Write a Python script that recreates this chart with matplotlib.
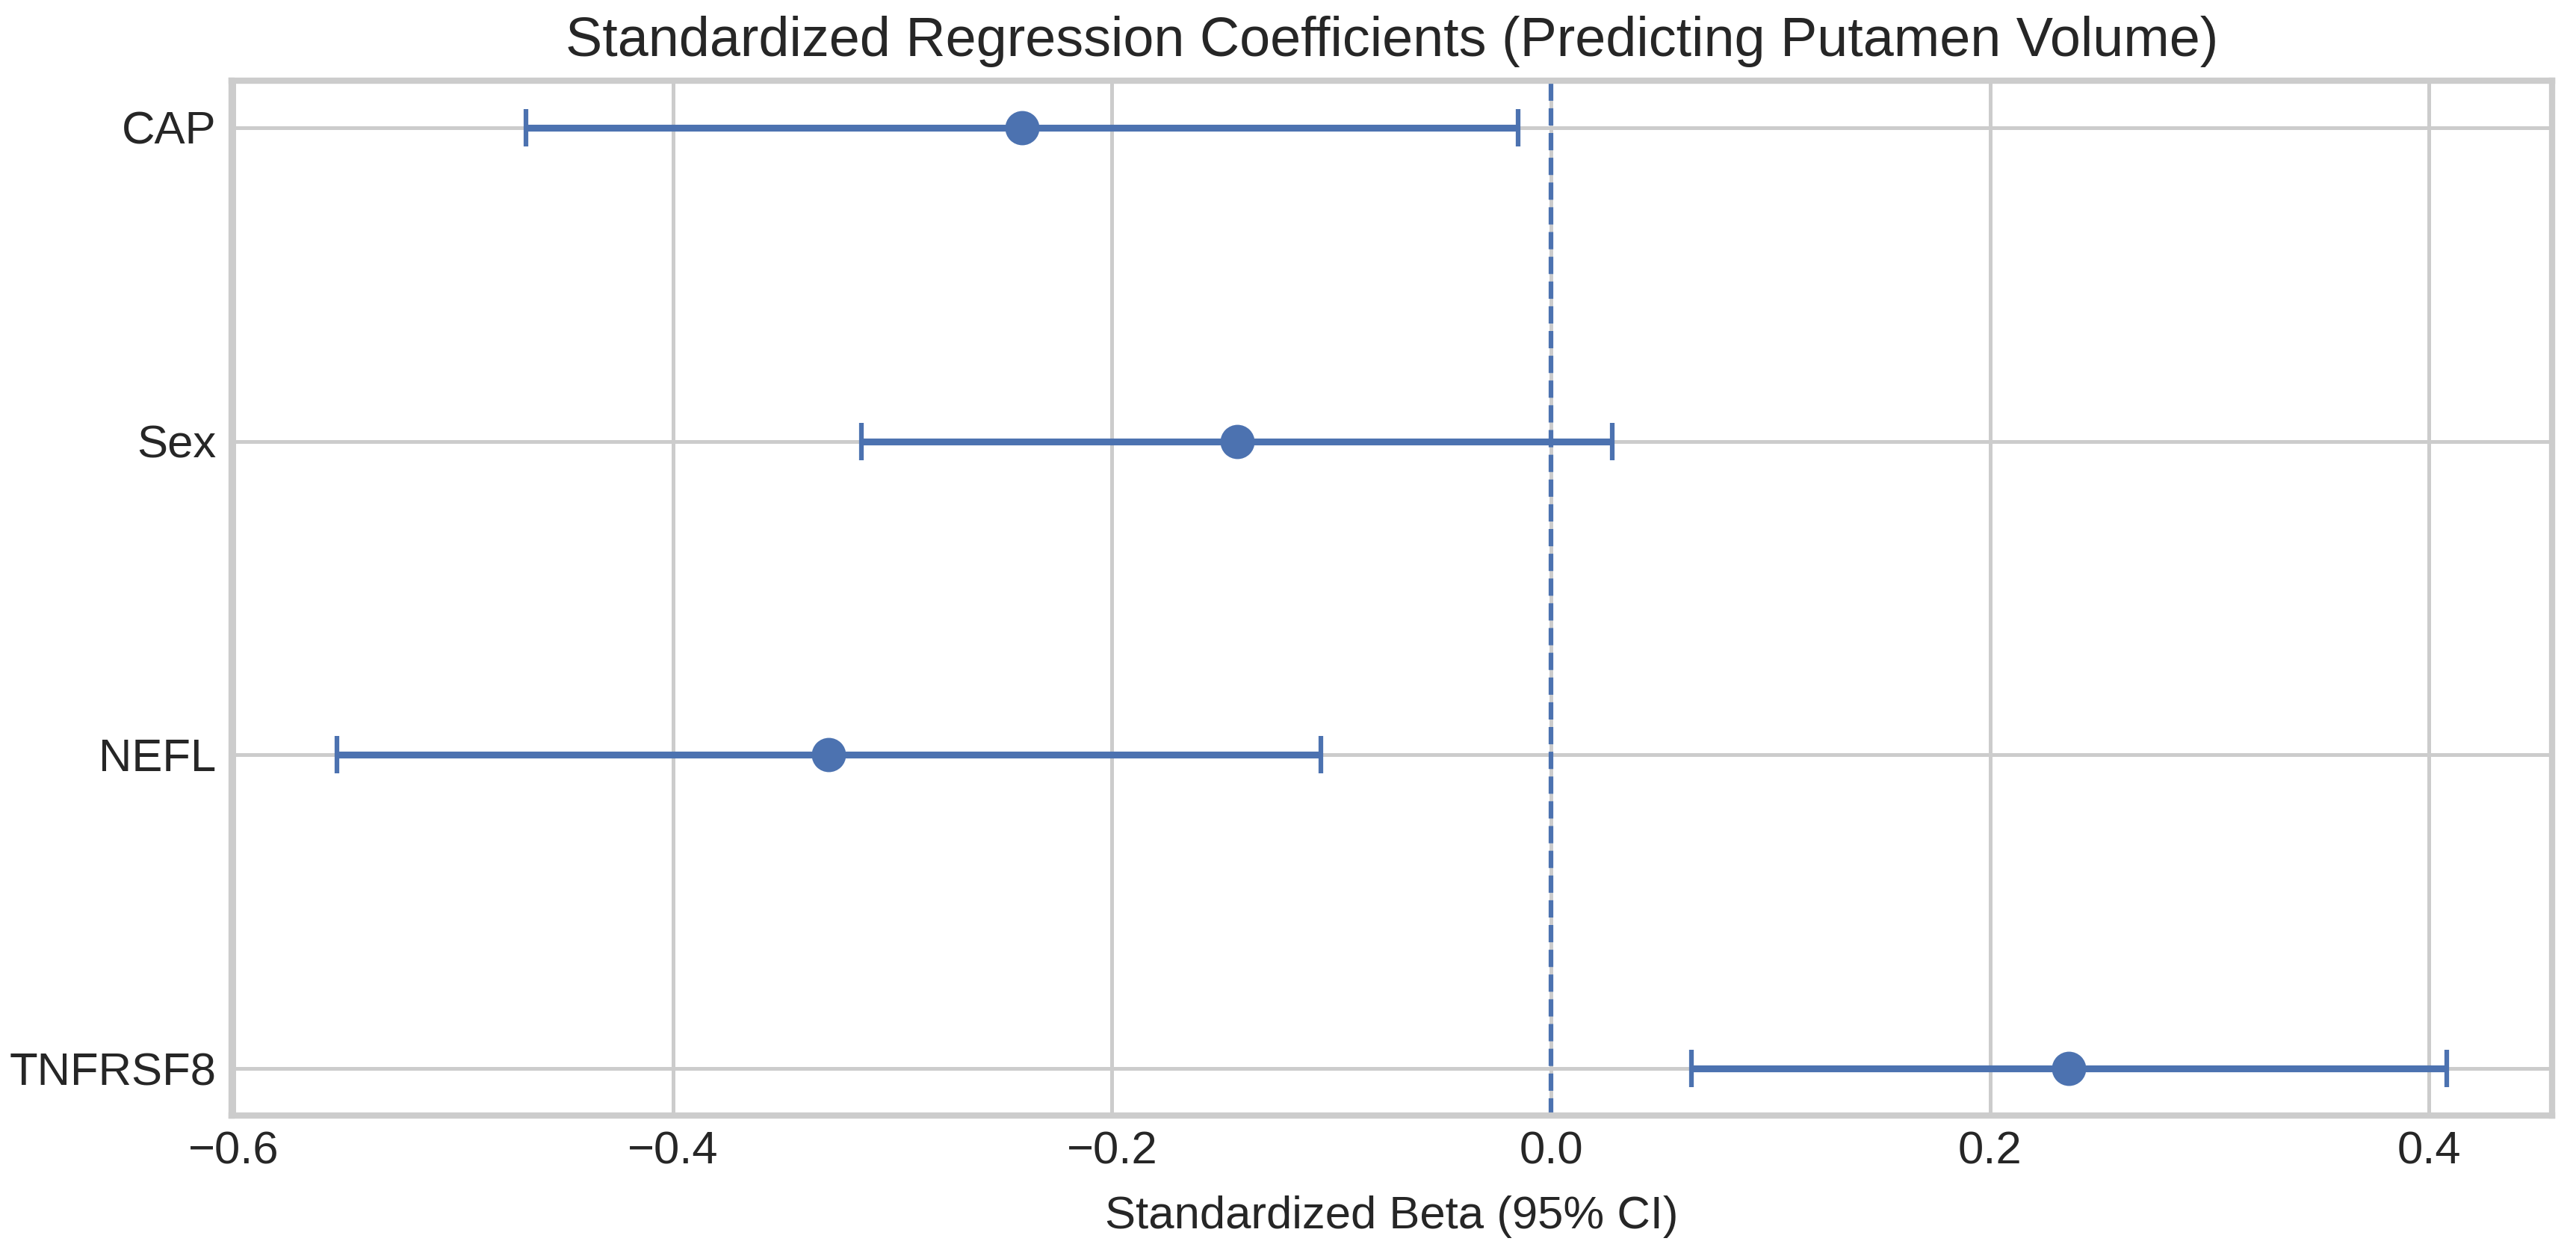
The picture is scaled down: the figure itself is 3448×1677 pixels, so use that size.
import matplotlib
matplotlib.use("Agg")
import matplotlib.pyplot as plt
import seaborn as sns
import numpy as np

# Data
predictors = ["CAP", "Sex", "NEFL", "TNFRSF8"]
beta = [-0.241, -0.143, -0.329, 0.236]
ci_low = [-0.467, -0.314, -0.553, 0.064]
ci_high = [-0.015, 0.028, -0.105, 0.408]

sns.set_theme(style="whitegrid")
plt.rcParams["font.family"] = ["Liberation Sans", "DejaVu Sans"]

W, H, DPI = 3448, 1677, 300
fig = plt.figure(figsize=(W / DPI, H / DPI), dpi=DPI)
ax = fig.add_axes([310 / W, 1 - 1493 / H, (3416 - 310) / W, (1493 - 108) / H])

blue = "#4C72B0"
y = np.arange(len(predictors))
b = np.array(beta)
lo = np.array(ci_low)
hi = np.array(ci_high)

ax.errorbar(b, y, xerr=[b - lo, hi - b], fmt="o", color=blue,
            markersize=10, elinewidth=2.2, capsize=6, capthick=1.5, zorder=3)
ax.axvline(0, color=blue, linestyle="--", linewidth=1.5, zorder=2)

ax.set_yticks(y)
ax.set_yticklabels(predictors)
ax.invert_yaxis()
ax.set_xticks([-0.6, -0.4, -0.2, 0.0, 0.2, 0.4])

for s in ax.spines.values():
    s.set_color("#cccccc")
    s.set_linewidth(2.0)
ax.grid(True, color="#cccccc", linewidth=1.2)
ax.tick_params(axis="both", labelsize=14.8, colors="#262626", length=0, pad=5)

ax.set_xlabel("Standardized Beta (95% CI)", fontsize=14.8, color="#262626", labelpad=7)
ax.set_title("Standardized Regression Coefficients (Predicting Putamen Volume)",
             fontsize=17.7, color="#262626", pad=8)

fig.savefig("out.png", dpi=DPI)
